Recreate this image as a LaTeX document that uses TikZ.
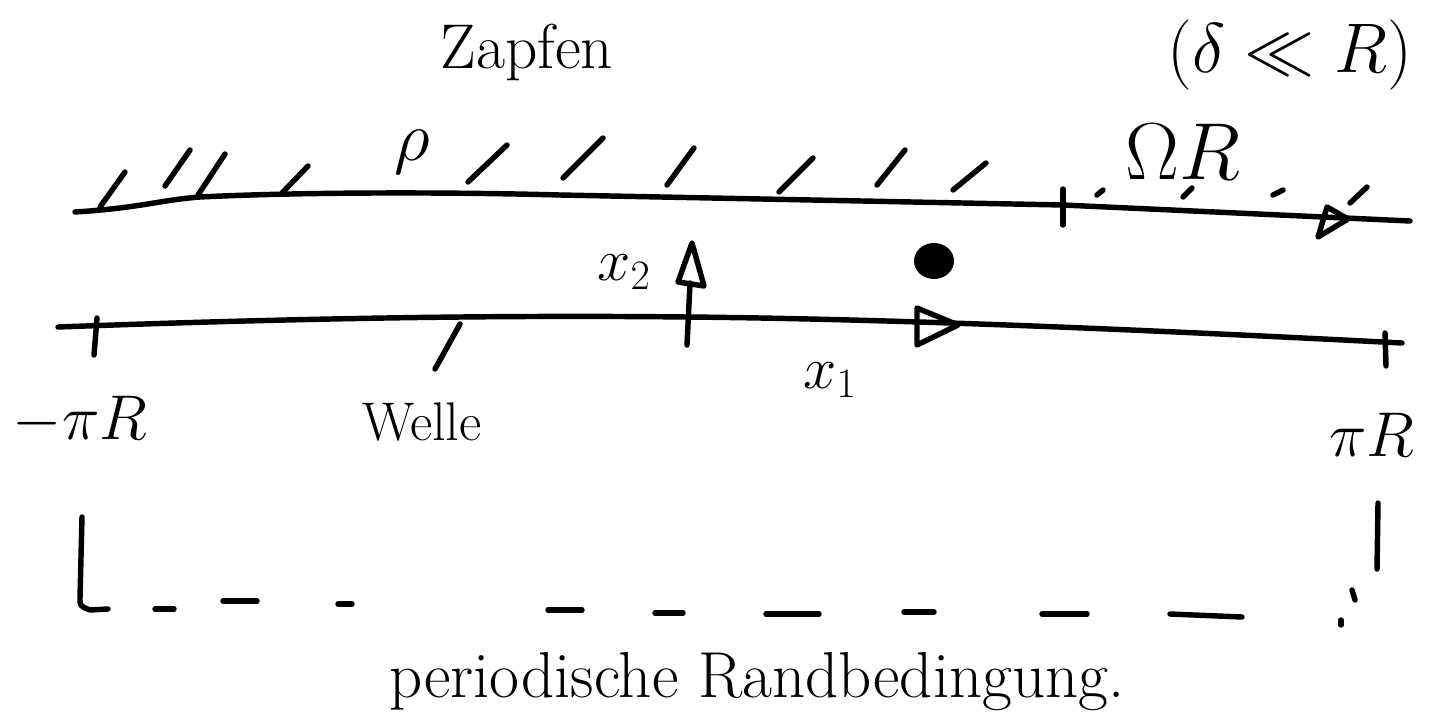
\documentclass[tikz,border=0pt]{standalone}
\usepackage{fix-cm}
\usepackage{fontspec}
\usepackage{xcolor}
\definecolor{ink}{HTML}{000000}
\usetikzlibrary{arrows.meta, positioning, calc}

\begin{document}
\begin{tikzpicture}[
  x=0.02cm, y=-0.02cm,
  pen/.style={draw=ink, line width=3.1pt, line cap=round, line join=round},
  hand/.style={text=ink, inner sep=0pt, font=\fontsize{#1}{#1}\selectfont}
]
  \useasboundingbox (0,0) rectangle (1433,720);

  \coordinate (topL) at (75,212);
  \coordinate (topTick) at (1063,205);
  \coordinate (topR) at (1410,221);
  \draw[pen] (topL) .. controls (140,208) and (160,200) .. (200,197)
    .. controls (300,192) and (450,192) .. (560,195) -- (topTick) -- (topR);
  \draw[pen] (1063,189) -- (1063,225);

  \foreach \xa/\ya/\xb/\yb in {100/207/125/172, 165/186/190/150, 198/195/225/154,
      282/193/308/166, 468/182/507/145, 563/178/603/138, 667/185/694/148,
      779/192/813/158, 877/185/905/150, 953/190/986/163,
      1097/195/1103/190, 1183/197/1192/188, 1273/195/1283/190, 1350/203/1367/187}
    \draw[pen] (\xa,\ya) -- (\xb,\yb);
  \draw[pen] (1327,207) -- (1348,219) -- (1318,237) -- cycle;

  \coordinate (midL) at (58,327);
  \coordinate (origin) at (687,317);
  \coordinate (midR) at (1402,343);
  \draw[pen] (midL) .. controls (300,318) and (500,315) .. (origin)
    .. controls (900,319) and (1150,330) .. (midR);
  \draw[pen] (97,318) -- (94,355);
  \draw[pen] (1385,333) -- (1386,366);

  \coordinate (xtip) at (692,243);
  \draw[pen] (687,345) -- (690,283);
  \draw[pen] (xtip) -- (678,282) -- (704,286) -- cycle;
  \draw[pen] (917,308) -- (958,325) -- (917,345) -- cycle;
  \fill[ink] (934,261) ellipse [x radius=0.4cm, y radius=0.36cm];

  \node[hand=36] (zapfen) at (527,52) {Zapfen};
  \node[hand=40] (rho) at (412,152) {$\rho$};
  \node[hand=46] (omegaR) at (1183,152) {$\Omega R$};
  \node[hand=40, anchor=base] (gap) at (1290,72) {$(\delta \ll R)$};
  \node[hand=34] (xtwo) at (624,272) {$x_2$};
  \node[hand=34] (xone) at (830,380) {$x_1$};
  \node[hand=36] (minusPiR) at (80,421) {$-\pi R$};
  \node[hand=36] (piR) at (1372,435) {$\pi R$};
  \node[hand=31] (welle) at (422,422) {Welle};
  \node[hand=37] (periodic) at (757,682) {periodische Randbedingung.};

  \coordinate (welleFoot) at (435,369);
  \coordinate (welleTip) at (460,324);
  \draw[pen] (welleFoot) -- (welleTip);

  \draw[pen] (82,517) -- (80,598) .. controls (80,606) .. (90,610) -- (108,609);
  \foreach \xa/\xb/\y in {155/174/609, 223/257/601, 338/352/604, 548/582/610,
      655/683/613, 766/819/614, 904/934/612, 1042/1087/614}
    \draw[pen] (\xa,\y) -- (\xb,\y);
  \draw[pen] (1170,614) -- (1242,617);
  \draw[pen] (1378,503) -- (1377,569);
  \draw[pen] (1352,590) -- (1355,600);
  \draw[pen] (1341,620) -- (1341,625);
\end{tikzpicture}
\end{document}
